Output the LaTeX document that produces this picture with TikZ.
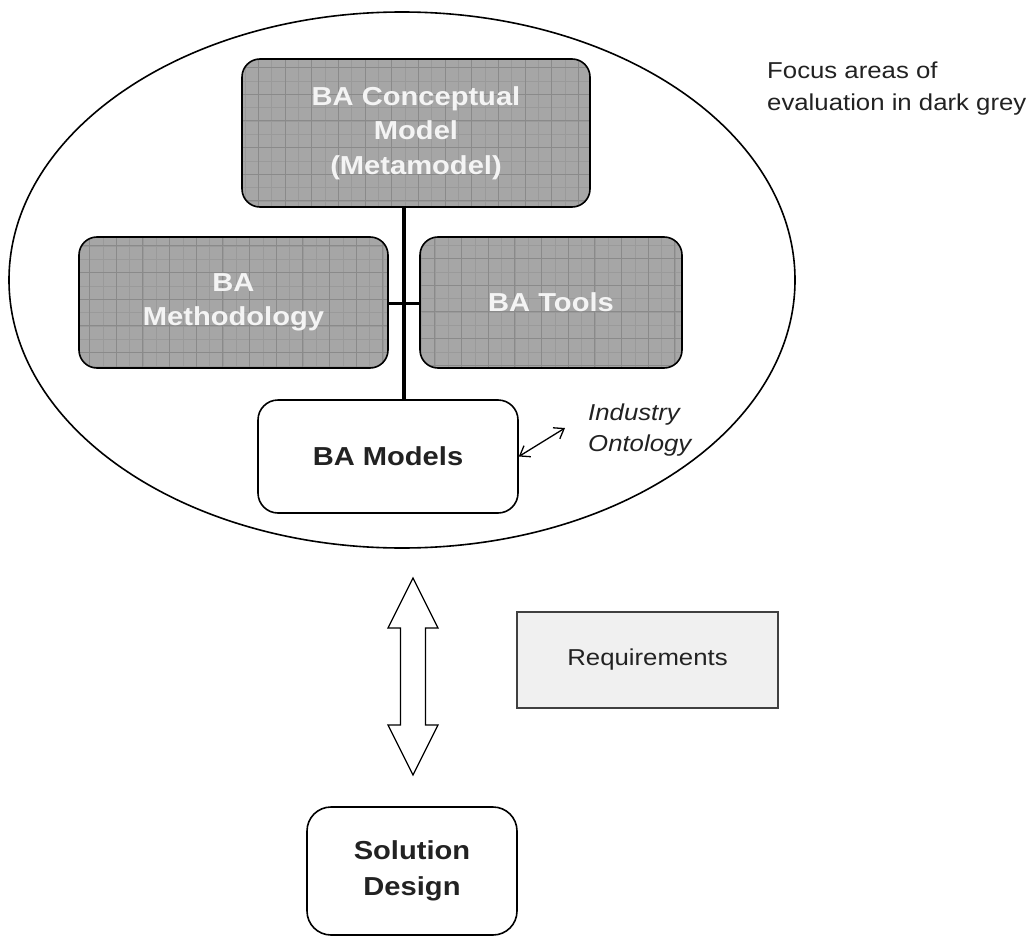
\documentclass[tikz,border=0pt]{standalone}
\usepackage{fontspec}
\setmainfont{Liberation Sans}
\newfontfamily\wfont{Liberation Sans}[FakeStretch=1.12]
\usetikzlibrary{shapes.geometric,arrows.meta}
\definecolor{boxgray}{HTML}{A6A6A6}
\definecolor{gridc}{HTML}{8A8A8A}
\definecolor{gridm}{HTML}{9A9A9A}
\definecolor{reqfill}{HTML}{F0F0F0}
\definecolor{txt}{HTML}{222222}
\definecolor{wtxt}{HTML}{F4F4F4}
\begin{document}
\begin{tikzpicture}[x=1pt,y=1pt,
  gbox/.style={draw=black, line width=1.6pt, rounded corners=18pt, fill=boxgray,
    text=wtxt, font=\wfont\bfseries\fontsize{26}{34.5}\selectfont, align=center, inner sep=0pt,
    path picture={
      \draw[gridm, line width=0.5pt, step=13.333pt] (path picture bounding box.south west) grid (path picture bounding box.north east);
      \draw[gridc, line width=0.9pt, step=26.667pt] (path picture bounding box.south west) grid (path picture bounding box.north east);}},
  wbox/.style={draw=black, line width=1.6pt, rounded corners=20pt, fill=white,
    text=txt, font=\wfont\bfseries\fontsize{26}{36}\selectfont, align=center, inner sep=0pt},
  reqbox/.style={draw=black!75, line width=1.6pt, fill=reqfill, text=txt,
    font=\wfont\fontsize{23}{28}\selectfont, inner sep=0pt},
  note/.style={text=txt, font=\wfont\fontsize{23}{32}\selectfont, align=left, inner sep=0pt},
  inote/.style={text=txt, font=\wfont\itshape\fontsize{23}{31}\selectfont, align=left, inner sep=0pt},
  conn/.style={line width=3.5pt, black},
  barb/.style={line width=1.3pt, {Straight Barb[length=9pt,width=13pt]}-{Straight Barb[length=9pt,width=13pt]}},
  fat/.style={line width=1.3pt, draw=black, fill=white, line join=miter}
]
\useasboundingbox (0,0) rectangle (1035,-936);

% big ellipse
\node[ellipse, draw=black, line width=1.6pt, minimum width=786pt, minimum height=536pt, inner sep=0pt] (ell) at (402,-280) {};

% grey focus boxes
\node[gbox, minimum width=348pt, minimum height=148pt] (cm) at (416,-133) {BA Conceptual\\Model\\(Metamodel)};
\node[gbox, minimum width=309pt, minimum height=131pt] (meth) at (233.5,-302.5) {BA\\Methodology};
\node[gbox, minimum width=262pt, minimum height=131pt] (tools) at (551,-302.5) {BA Tools};

% BA Models
\node[wbox, minimum width=260pt, minimum height=113pt] (bam) at (388,-456.5) {BA Models};

% connectors
\coordinate (j) at (404,-303);
\draw[conn] (j |- cm.south) -- (j |- bam.north);
\draw[conn, line width=3pt] (meth.east |- j) -- (tools.west |- j);

% industry ontology
\coordinate (io) at (565,-428);
\draw[barb] (bam.east) -- (io);
\node[inote, anchor=base west] (ont) at (588,-451) {Industry\\Ontology};

% focus note
\node[note, anchor=base west] (focus) at (767,-111) {Focus areas of\\evaluation in dark grey};

% requirements
\node[reqbox, minimum width=261pt, minimum height=96pt] (req) at (647.5,-660) {Requirements};

% solution design
\node[wbox, minimum width=210pt, minimum height=128pt, rounded corners=24pt] (sol) at (412,-871) {Solution\\Design};

% big double arrow
\coordinate (at) at (413,-578);
\coordinate (ab) at (413,-775);
\draw[fat] (at) -- ++(25,-50) -- ++(-12.5,0) |- ([xshift=12.5pt,yshift=50pt]ab)
  -- ++(12.5,0) -- (ab) -- ++(-25,50) -- ++(12.5,0) |- ([xshift=-12.5pt,yshift=-50pt]at)
  -- ++(-12.5,0) -- cycle;
\end{tikzpicture}
\end{document}
